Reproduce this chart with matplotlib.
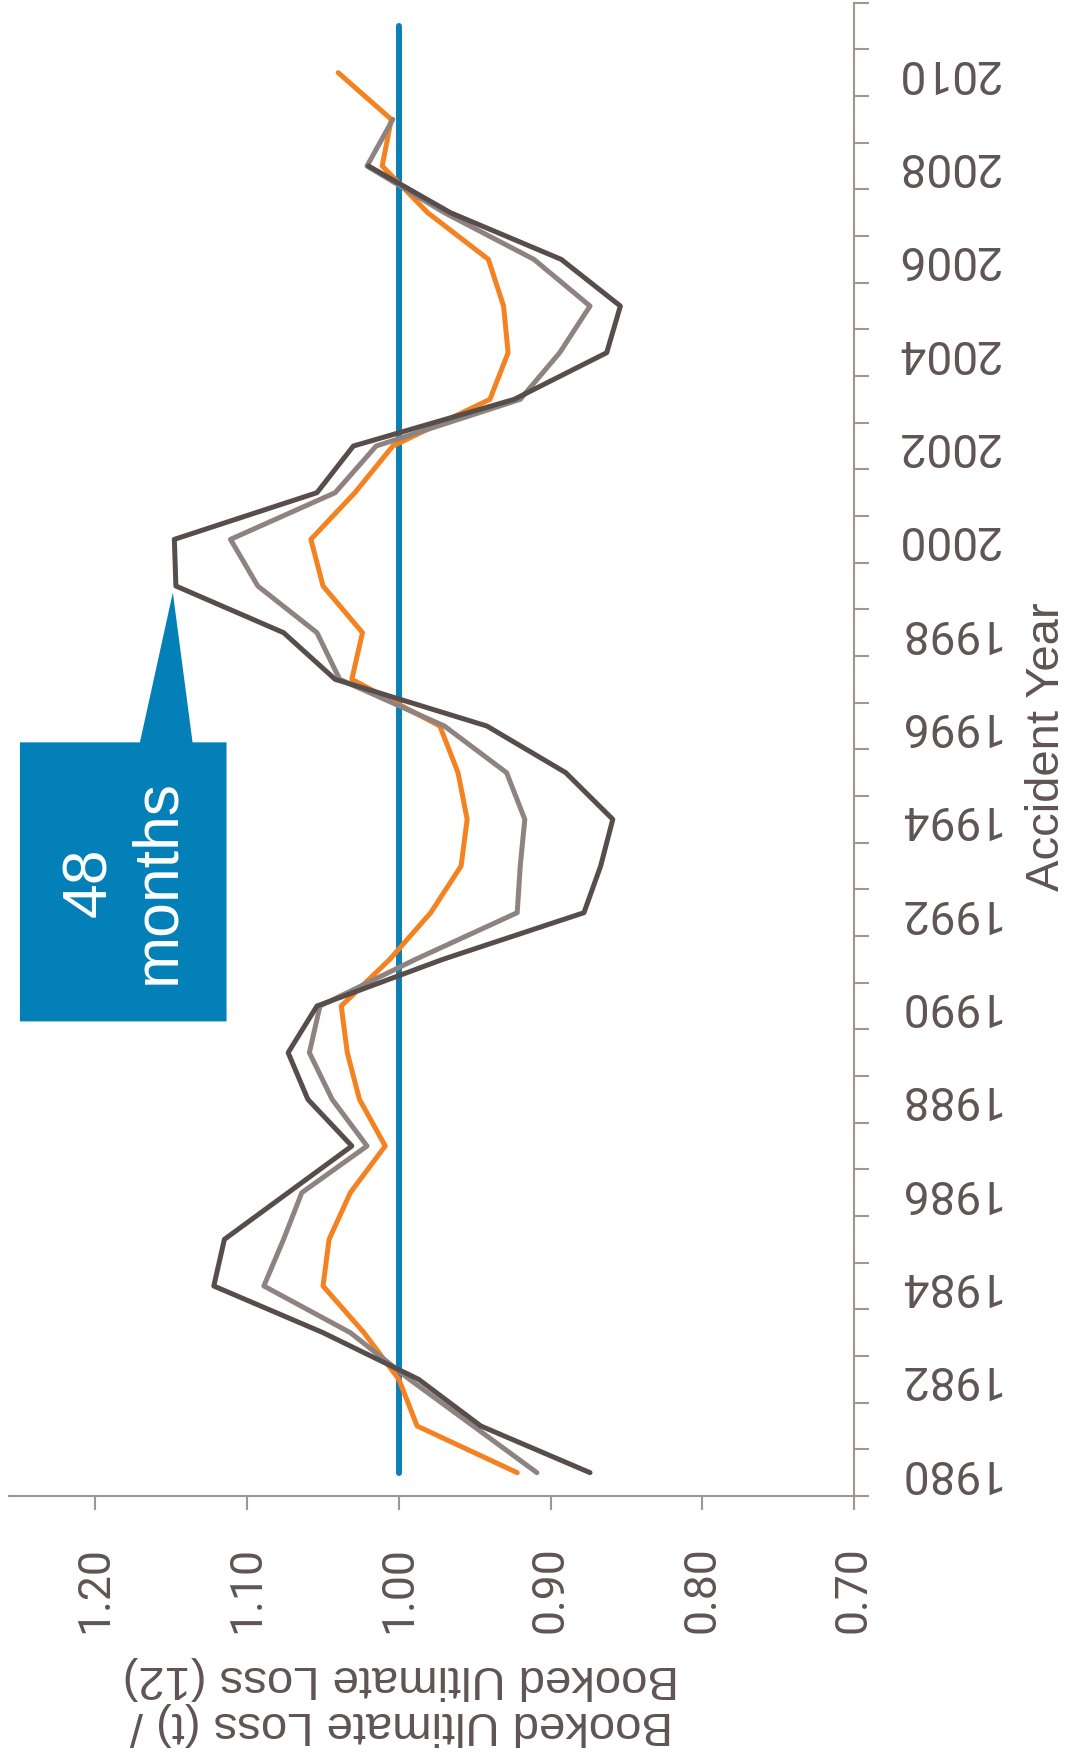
import numpy as np
import matplotlib
matplotlib.use("Agg")
import matplotlib.pyplot as plt
from matplotlib.patches import Polygon

plt.rcParams['font.family'] = ['Liberation Sans', 'DejaVu Sans']

# accident years and development ratios (booked ultimate at t / at 12 months)
years = np.arange(1980, 2012)
ratio_24 = [0.922, 0.988, 1.000, 1.023, 1.050, 1.046, 1.032, 1.009, 1.026, 1.034,
            1.038, 1.006, 0.979, 0.959, 0.955, 0.961, 0.973, 1.031, 1.024, 1.050,
            1.058, 1.029, 1.004, 0.940, 0.928, 0.931, 0.941, 0.981, 1.011, 1.005,
            1.040]
ratio_36 = [0.909, 0.951, 0.993, 1.032, 1.089, 1.076, 1.064, 1.021, 1.044, 1.059,
            1.052, 0.989, 0.922, 0.920, 0.917, 0.929, 0.970, 1.039, 1.054, 1.093,
            1.111, 1.042, 1.015, 0.920, 0.894, 0.874, 0.911, 0.970, 1.021, 1.004]
ratio_48 = [0.874, 0.946, 0.987, 1.050, 1.122, 1.115, 1.073, 1.031, 1.060, 1.073,
            1.054, 0.971, 0.878, 0.867, 0.859, 0.890, 0.942, 1.042, 1.076, 1.147,
            1.148, 1.054, 1.030, 0.924, 0.863, 0.854, 0.893, 0.966, 1.020]
baseline = [1.0] * len(years)

x_ticks = [1.20, 1.10, 1.00, 0.90, 0.80, 0.70]
year_labels = list(range(1980, 2011, 2))

axis_col = '#a09794'
text_col = '#5e5553'
blue = '#0a80b7'
num_font = ['Roboto', 'Liberation Sans', 'DejaVu Sans']

fig = plt.figure(figsize=(10.71, 17.62), dpi=100)
ax = fig.add_axes([9 / 1071, 1 - 1496 / 1762, 845 / 1071, 1493.3 / 1762])

# chart is laid out turned on its side: ratio runs horizontally, years upward
ax.plot(baseline, years, color=blue, lw=4.3, solid_capstyle='round')
ax.plot(ratio_24, years[:len(ratio_24)], color='#f58220', lw=3.6,
        solid_capstyle='round')
ax.plot(ratio_36, years[:len(ratio_36)], color='#8e8380', lw=3.6,
        solid_capstyle='round')
ax.plot(ratio_48, years[:len(ratio_48)], color='#574e4c', lw=3.6,
        solid_capstyle='round')

ax.set_xlim(1.257, 0.70)
ax.set_ylim(1979.5, 2011.5)

for s in ['top', 'left']:
    ax.spines[s].set_visible(False)
for s in ['bottom', 'right']:
    ax.spines[s].set_color(axis_col)
    ax.spines[s].set_linewidth(1.5)

ax.set_xticks(x_ticks)
ax.set_xticklabels([f'{v:.2f}' for v in x_ticks], rotation=90,
                   family=num_font)
ax.tick_params(axis='x', direction='out', length=10, width=1.5, color=axis_col,
               labelsize=32, labelcolor=text_col, pad=26)

ax.yaxis.tick_right()
ax.set_yticks(year_labels)
ax.set_yticklabels([str(y) for y in year_labels], rotation=180, va='center',
                   family=num_font)
ax.set_yticks(np.arange(1979.5, 2012, 1.0), minor=True)
ax.tick_params(axis='y', which='major', length=0, labelsize=33,
               labelcolor=text_col, pad=30)
ax.tick_params(axis='y', which='minor', direction='out', length=11, width=1.5,
               color=axis_col)

fig.text(1047 / 1071, 1 - 747 / 1762, 'Accident Year', rotation=90,
         ha='center', va='center', fontsize=34, color=text_col)
fig.text(401 / 1071, 1 - 1701 / 1762,
         'Booked Ultimate Loss (t) /\nBooked Ultimate Loss (12)',
         rotation=180, ha='center', va='center', multialignment='center',
         fontsize=34, color=text_col, linespacing=1.05)

# callout for the 48-month series
box_x0, box_x1 = 1.2498, 1.1136
box_y0, box_y1 = 1989.67, 1995.65
callout = Polygon([(box_x0, box_y0), (box_x1, box_y0), (box_x1, box_y1),
                   (1.136, box_y1), (1.149, 1998.86), (1.1707, box_y1),
                   (box_x0, box_y1)],
                  closed=True, facecolor='#0380b8', edgecolor='none',
                  clip_on=False, zorder=5)
ax.add_patch(callout)
ax.text((box_x0 + box_x1) / 2, (box_y0 + box_y1) / 2, '48\nmonths',
        rotation=90, ha='center', va='center', multialignment='center',
        fontsize=45, color='white', zorder=6)

fig.savefig('out.png', dpi=100)
